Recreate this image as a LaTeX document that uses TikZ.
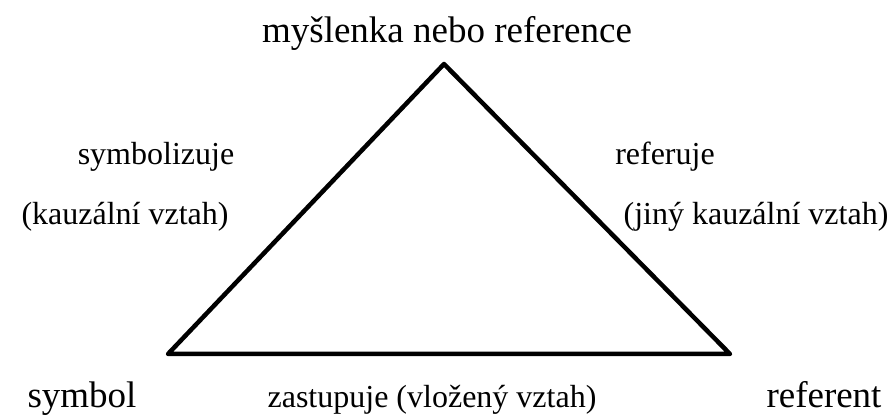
\documentclass[tikz,border=0pt]{standalone}
\usepackage{fontspec}
\setmainfont{Liberation Serif}
\begin{document}
\begin{tikzpicture}[x=1pt, y=1pt, line cap=round, line join=round,
    big/.style={anchor=base, inner sep=0pt, font=\fontsize{37}{40}\selectfont},
    small/.style={anchor=base, inner sep=0pt, font=\fontsize{32}{36}\selectfont}]
    \useasboundingbox (0,0) rectangle (892,417);
    \coordinate (apex) at (444,353);
    \coordinate (left) at (168,63);
    \coordinate (right) at (730,63);
    \draw[line width=4.5pt] (apex) -- (left) -- (right) -- cycle;
    \node[big] (thought) at (447,374) {myšlenka nebo reference};
    \node[big] (symbol) at (82,9) {symbol};
    \node[big] (referent) at (824,9) {referent};
    \node[small] (stands) at (432,9) {zastupuje (vložený vztah)};
    \node[small] (symbolizes) at (156,252) {symbolizuje};
    \node[small] (causal) at (125,192) {(kauzální vztah)};
    \node[small] (refers) at (665,252) {referuje};
    \node[small] (othercausal) at (756,192) {(jiný kauzální vztah)};
  \end{tikzpicture}
\end{document}
